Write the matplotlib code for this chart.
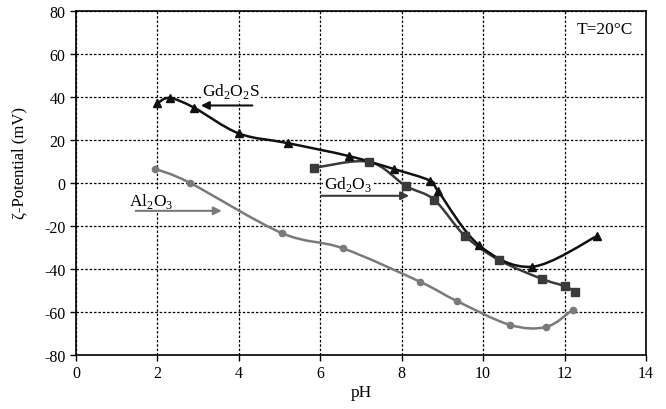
import numpy as np
import matplotlib
matplotlib.use("Agg")
import matplotlib.pyplot as plt
from matplotlib.path import Path
from matplotlib.patches import PathPatch

plt.rcParams['font.family'] = ['Liberation Serif', 'DejaVu Serif']
plt.rcParams['mathtext.fontset'] = 'custom'
plt.rcParams['mathtext.rm'] = 'Liberation Serif'
plt.rcParams['axes.unicode_minus'] = False

# Gd2O2S (black, triangles)
ph_gos = [2.0, 2.3, 2.9, 4.0, 5.2, 6.7, 7.8, 8.7, 8.9, 9.9, 11.2, 12.8]
zeta_gos = [37, 39.5, 35, 23, 18.5, 12.5, 6.5, 1, -4, -29, -39, -24.7]

# Gd2O3 (dark grey, squares)
ph_go = [5.85, 7.2, 8.1, 8.8, 9.55, 10.4, 11.45, 12.0, 12.25]
zeta_go = [7, 9.8, -1.4, -7.9, -24.6, -36, -44.7, -48, -50.6]

# Al2O3 (grey, circles)
ph_al = [1.95, 2.8, 5.05, 6.55, 8.45, 9.35, 10.65, 11.55, 12.2]
zeta_al = [6.5, 0, -23.3, -30.4, -46, -54.9, -66, -67, -59]


def smooth_path(x, y, k=1 / 6):
    # Catmull-Rom style bezier through the data points (like Excel "smoothed line")
    x = np.asarray(x, float)
    y = np.asarray(y, float)
    pts = np.column_stack([x, y])
    verts = [pts[0]]
    codes = [Path.MOVETO]
    n = len(pts)
    for i in range(n - 1):
        p0 = pts[i - 1] if i > 0 else pts[i]
        p1 = pts[i]
        p2 = pts[i + 1]
        p3 = pts[i + 2] if i + 2 < n else pts[i + 1]
        c1 = p1 + (p2 - p0) * k
        c2 = p2 - (p3 - p1) * k
        verts += [c1, c2, p2]
        codes += [Path.CURVE4] * 3
    return Path(verts, codes)


fig = plt.figure(figsize=(6.66, 4.10), dpi=100)
ax = fig.add_axes([0.114, 0.132, 0.856, 0.839])

series = [
    (ph_al, zeta_al, '#7a7a7a', 'o', 4.5),
    (ph_go, zeta_go, '#3a3a3a', 's', 5.5),
    (ph_gos, zeta_gos, '#111111', '^', 5.5),
]
for xs, ys, col, mk, ms in series:
    ax.add_patch(PathPatch(smooth_path(xs, ys), facecolor='none',
                           edgecolor=col, lw=1.8, zorder=3))
    ax.plot(xs, ys, linestyle='none', marker=mk, color=col, ms=ms, zorder=4)

ax.set_xlim(0, 14)
ax.set_ylim(-80, 80)
ax.set_xticks(range(0, 15, 2))
ax.set_yticks(range(-80, 81, 20))
ax.grid(True, color='black', linestyle=(0, (2, 1.5)), lw=0.9)
ax.tick_params(direction='out', length=4, labelsize=11.5, width=1)
for s in ax.spines.values():
    s.set_linewidth(1.2)

ax.set_xlabel('pH', fontsize=12.5, labelpad=2)
ax.set_ylabel('ζ-Potential (mV)', fontsize=12)
ax.yaxis.set_label_coords(-0.085, 0.56)

# series labels with arrows
ax.text(3.1, 43, r'Gd$_2$O$_2$S', fontsize=12.5, va='center', ha='left',
        bbox=dict(fc='white', ec='none', pad=1))
ax.annotate('', xy=(3.0, 36), xytext=(4.4, 36),
            arrowprops=dict(arrowstyle='-|>', color='#111111', lw=1.5,
                            mutation_scale=12))
ax.text(6.1, -0.5, r'Gd$_2$O$_3$', fontsize=12.5, va='center', ha='left',
        bbox=dict(fc='white', ec='none', pad=1))
ax.annotate('', xy=(8.25, -6), xytext=(5.95, -6),
            arrowprops=dict(arrowstyle='-|>', color='#3a3a3a', lw=1.5,
                            mutation_scale=12))
ax.text(1.3, -8, r'Al$_2$O$_3$', fontsize=12.5, va='center', ha='left',
        bbox=dict(fc='white', ec='none', pad=1))
ax.annotate('', xy=(3.65, -13), xytext=(1.4, -13),
            arrowprops=dict(arrowstyle='-|>', color='#7a7a7a', lw=1.5,
                            mutation_scale=12))

ax.text(13.0, 71.5, 'T=20°C', fontsize=12.5, va='center', ha='center',
        bbox=dict(fc='white', ec='none', pad=2))

fig.savefig('out.png', dpi=100)
